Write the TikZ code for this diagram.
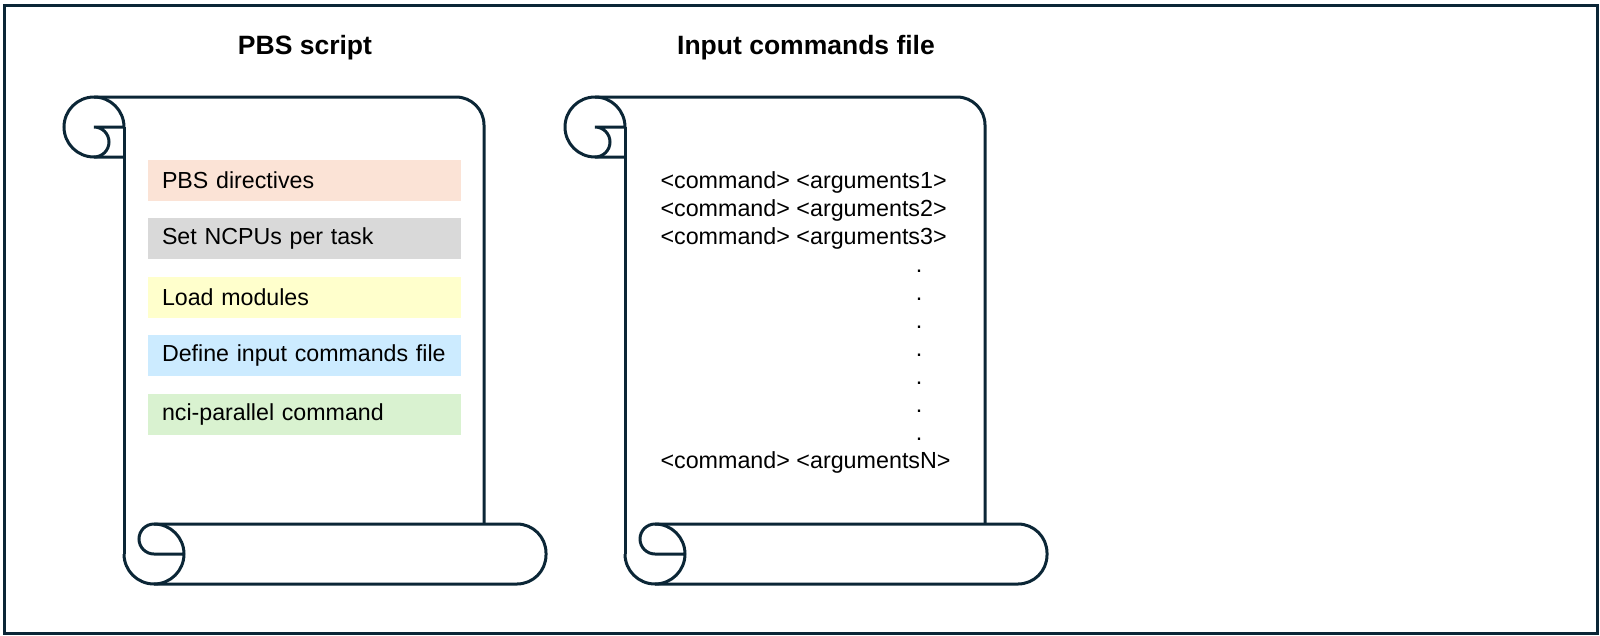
\documentclass[tikz,border=0pt]{standalone}
\usepackage{fontspec}
\setmainfont{Liberation Sans}
\definecolor{ink}{HTML}{0B2636}
\definecolor{peach}{HTML}{FBE3D6}
\definecolor{greybox}{HTML}{D9D9D9}
\definecolor{lemon}{HTML}{FFFFCC}
\definecolor{skyblue}{HTML}{CCEBFF}
\definecolor{mint}{HTML}{D9F2D0}
\begin{document}
\begin{tikzpicture}[x=1pt, y=1pt, line width=3pt,
    layer/.style={minimum height=41pt, text width=285pt, inner xsep=14pt, inner ysep=0pt,
      align=left, font=\fontsize{23.2}{28}\selectfont},
    title/.style={anchor=base, font=\fontsize{26.5}{32}\selectfont\bfseries},
    cmd/.style={anchor=base west, inner sep=0pt, font=\fontsize{23.3}{28}\selectfont}]
  \useasboundingbox (0,0) rectangle (1600,-635);
  \draw[ink] (4.5,-5.5) rectangle (1597,-633.5);
  % the two scrolls
  \foreach \dx in {0,501} {
    \begin{scope}[xshift=\dx, color=ink]
      \draw[rounded corners=28] (94,-97) -- (484,-97) -- (484,-524);
      \draw (124,-127) -- (124,-554);
      % top curl
      \draw (124,-127) arc[start angle=0, end angle=270, radius=30] -- (124,-157);
      \draw (124,-127) -- (94,-127) arc[start angle=90, end angle=-90, radius=15];
      % bottom curl
      \draw (124,-554) arc[start angle=180, end angle=450, radius=30]
        arc[start angle=90, end angle=270, radius=15] -- (184,-554);
      \draw[rounded corners=29] (154,-524) -- (546,-524) -- (546,-584) -- (154,-584);
    \end{scope}
  }
  \node[title] (pbstitle) at (305,-54) {PBS script};
  \node[title] (cmdtitle) at (806,-54) {Input commands file};
  % PBS script parts
  \node[layer, fill=peach]   (directives) at (304.5,-180)   {PBS directives};
  \node[layer, fill=greybox] (ncpus)      at (304.5,-238.6) {Set NCPUs per task};
  \node[layer, fill=lemon]   (modules)    at (304.5,-297.2) {Load modules};
  \node[layer, fill=skyblue] (define)     at (304.5,-355.8) {Define input commands file};
  \node[layer, fill=mint]    (parallel)   at (304.5,-414.4) {nci-parallel command};
  % commands file
  \node[cmd] (cmd1) at (659,-188) {<command> <arguments1>};
  \node[cmd] (cmd2) at (659,-216) {<command> <arguments2>};
  \node[cmd] (cmd3) at (659,-244) {<command> <arguments3>};
  \foreach \k in {1,...,7}
    \node[cmd, anchor=base] (dot\k) at (919,-244-28*\k) {.};
  \node[cmd] (cmdN) at (659,-468) {<command> <argumentsN>};
\end{tikzpicture}
\end{document}
